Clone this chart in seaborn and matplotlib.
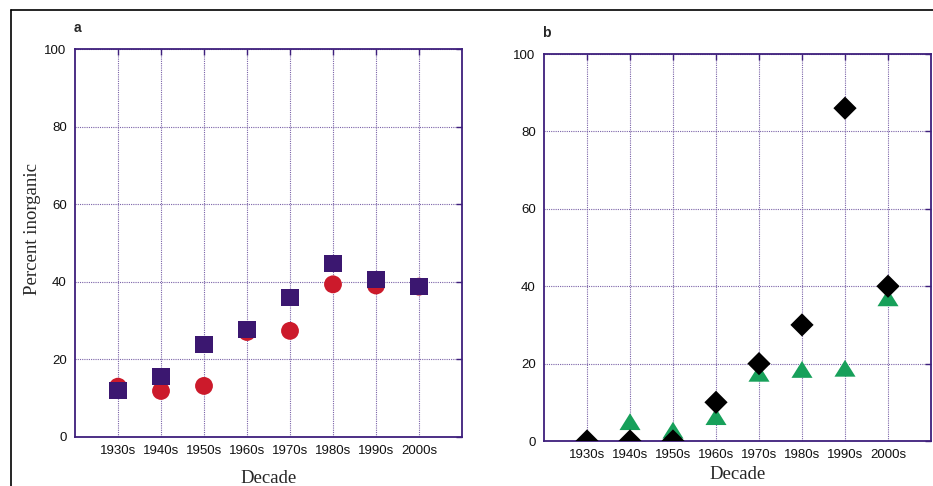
import matplotlib
matplotlib.use("Agg")
import matplotlib.pyplot as plt
from matplotlib.lines import Line2D
import seaborn as sns
import pandas as pd

decades = ["1930s", "1940s", "1950s", "1960s", "1970s", "1980s", "1990s", "2000s"]
a_circles = [12.9, 11.8, 13.1, 27.0, 27.3, 39.3, 39.0, 38.7]
a_squares = [11.9, 15.5, 23.8, 27.7, 35.9, 44.7, 40.6, 38.7]
b_triangles = [-0.5, 5.0, 2.8, 6.3, 17.5, 18.5, 18.8, 37.0]
b_diamonds = [0.0, 0.0, 0.0, 10.0, 20.0, 30.0, 86.0, 40.0]
yticks = [0, 20, 40, 60, 80, 100]

sns.set_style("white")
plt.rcParams['font.family'] = ['Liberation Sans', 'DejaVu Sans']

spine_col = "#3e1f7c"
grid_col = "#7a62a8"
red = "#cc1a2b"
sq_col = "#3b1770"
green = "#17a05a"

fig = plt.figure(figsize=(9.33, 4.86), dpi=100)
ax1 = fig.add_axes([75/933, 1-436.7/486, 387/933, 387.7/486])
ax2 = fig.add_axes([544/933, 1-441/486, 387/933, 387/486])

dfa = pd.DataFrame({"Decade": decades, "circ": a_circles, "sq": a_squares})
dfb = pd.DataFrame({"Decade": decades, "tri": b_triangles, "dia": b_diamonds})

sns.scatterplot(data=dfa, x="Decade", y="circ", ax=ax1, marker="o", s=165,
                color=red, edgecolor="none", zorder=3)
sns.scatterplot(data=dfa, x="Decade", y="sq", ax=ax1, marker="s", s=160,
                color=sq_col, edgecolor="none", zorder=4)

tri = [(-1, -0.8), (1, -0.8), (0, 0.8), (-1, -0.8)]
sns.scatterplot(data=dfb, x="Decade", y="tri", ax=ax2, marker=tri, s=230,
                color=green, edgecolor="none", zorder=3)
sns.scatterplot(data=dfb, x="Decade", y="dia", ax=ax2, marker="D", s=140,
                color="black", edgecolor="none", zorder=4)

for ax, lp in ((ax1, 9), (ax2, 3)):
    ax.set_xlim(-1, 8)
    ax.set_ylim(0, 100)
    ax.set_yticks(yticks)
    ax.set_xticks(range(len(decades)))
    ax.set_xticklabels(decades)
    ax.grid(True, linestyle=(0, (1, 1)), color=grid_col, linewidth=0.8)
    ax.set_axisbelow(True)
    for sp in ax.spines.values():
        sp.set_visible(True)
        sp.set_color(spine_col)
        sp.set_linewidth(1.3)
    ax.tick_params(direction="in", length=4, width=1, color=spine_col,
                   top=True, right=True, labelsize=9.5, pad=6, labelcolor="#111111")
    ax.set_xlabel("Decade", family=["Liberation Serif"], fontsize=13.5, labelpad=lp)
    ax.set_ylabel("")

ax1.set_ylabel("Percent inorganic", family=["Liberation Serif"], fontsize=13.5)
ax1.yaxis.set_label_coords(-0.088, 0.536)

fig.text(77/933, 1-28/486, "a", fontsize=10, fontweight="bold", ha="center", va="center")
fig.text(546/933, 1-33/486, "b", fontsize=10, fontweight="bold", ha="center", va="center")

fig.add_artist(Line2D([11/933, 11/933], [0, 1-10/486], color="black", linewidth=1.2))
fig.add_artist(Line2D([11/933, 1], [1-10/486, 1-10/486], color="black", linewidth=1.2))

fig.savefig("out.png", dpi=100)
